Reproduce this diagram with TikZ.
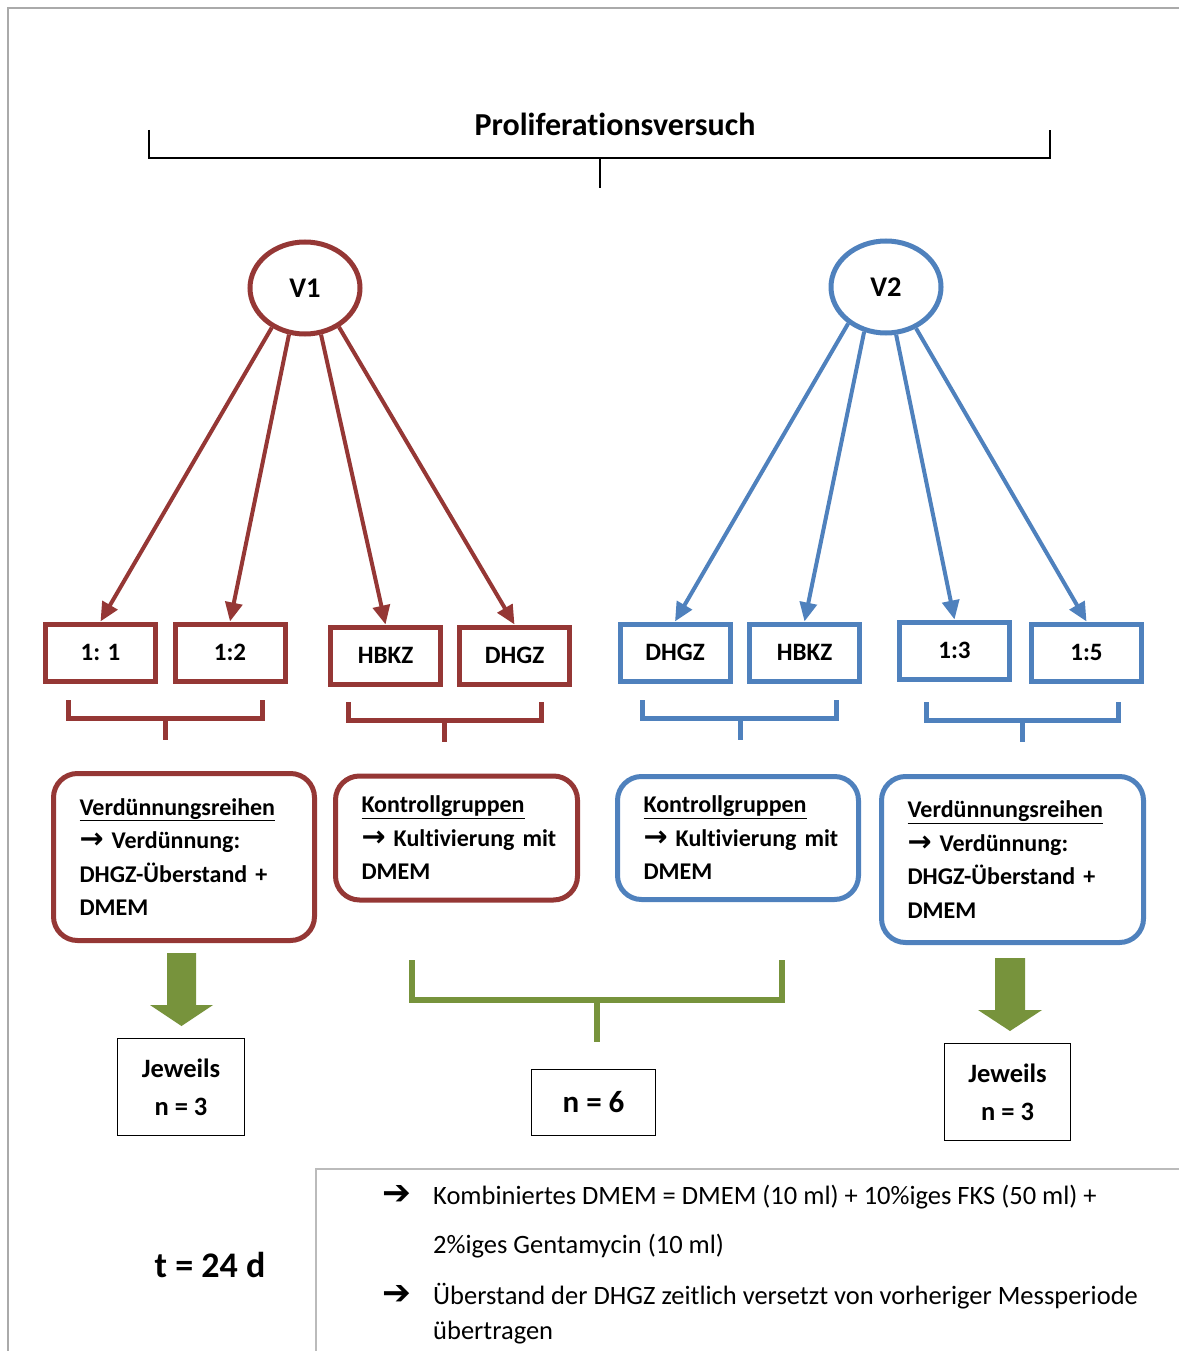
\documentclass[tikz,border=0pt]{standalone}
\usepackage{fontspec}
\setmainfont{Carlito}[Ligatures=NoCommon]
\newfontfamily\arrowfont{DejaVu Sans}
\usetikzlibrary{arrows.meta,shapes.geometric}
\definecolor{vred}{RGB}{149,55,53}
\definecolor{vblue}{RGB}{79,129,189}
\definecolor{vgreen}{RGB}{119,147,60}
\definecolor{framegray}{RGB}{170,170,170}
\newcommand{\thickarr}{\scalebox{1.2}{\arrowfont\bfseries →}}
\newcommand{\heavyarr}{\scalebox{1.3}{\arrowfont\bfseries ➔}}
\newcommand{\boxfont}{\bfseries\fontsize{24}{33.5}\selectfont}

\begin{document}
\begin{tikzpicture}[x=1pt, y=-1pt,
  ratio/.style={draw=#1, line width=5pt, minimum width=110pt, minimum height=57pt, inner sep=0pt, font=\bfseries\fontsize{25}{30}\selectfont},
  group/.style={draw=#1, line width=5pt, rounded corners=24pt, inner xsep=26pt, inner ysep=0pt, align=left, font=\boxfont},
  count/.style={draw, line width=1.6pt, inner sep=0pt, align=center},
  feed/.style={draw=#1, line width=4pt, -{Triangle[length=19pt,width=17pt]}},
  clamp/.style={draw=#1, line width=5pt}]
\useasboundingbox (0,0) rectangle (1179,1351);
\draw[framegray, line width=2.5pt] (8,1351) -- (8,8) -- (1179,8);

\node[font=\bfseries\fontsize{32}{36}\selectfont](title) at (615,124) {Proliferationsversuch};
\draw[line width=1.6pt] (149,130) -- (149,158) -- (1050,158) -- (1050,130);
\draw[line width=1.6pt] (600,158) -- (600,188);

\begin{scope}[every node/.style={ellipse, line width=5pt, minimum width=110pt, minimum height=92pt, font=\bfseries\fontsize{28.5}{32}\selectfont}]
\node[draw=vred](v1) at (305,288) {V1};
\node[draw=vblue](v2) at (886,287) {V2};
\end{scope}

\node[ratio=vred](r11) at (100.5,652.5) {1: 1};
\node[ratio=vred](r12) at (230,652.5) {1:2};
\node[ratio=vred](hbkz1) at (385.5,655.5) {HBKZ};
\node[ratio=vred](dhgz1) at (514.5,655.5) {DHGZ};
\node[ratio=vblue](dhgz2) at (675,652.5) {DHGZ};
\node[ratio=vblue](hbkz2) at (804.5,652.5) {HBKZ};
\node[ratio=vblue](r13) at (954.5,650.5) {1:3};
\node[ratio=vblue](r15) at (1086.5,652.5) {1:5};

\draw[feed=vred] (v1.230) -- (r11.north);
\draw[feed=vred] (v1.251) -- (r12.north);
\draw[feed=vred] (v1.289) -- (hbkz1.north);
\draw[feed=vred] (v1.311) -- (dhgz1.north);
\draw[feed=vblue] (v2.224) -- (dhgz2.north);
\draw[feed=vblue] (v2.244) -- (hbkz2.north);
\draw[feed=vblue] (v2.282) -- (r13.north);
\draw[feed=vblue] (v2.306) -- (r15.north);

\draw[clamp=vred] (68,700) -- (68,718) -- (262,718) -- (262,700);
\draw[clamp=vred] (165,718) -- (165,740);
\draw[clamp=vred] (348,702) -- (348,720) -- (541,720) -- (541,702);
\draw[clamp=vred] (444,720) -- (444,742);
\draw[clamp=vblue] (642,700) -- (642,718) -- (836,718) -- (836,700);
\draw[clamp=vblue] (740,718) -- (740,740);
\draw[clamp=vblue] (926,702) -- (926,720) -- (1118,720) -- (1118,702);
\draw[clamp=vblue] (1022,720) -- (1022,742);

\node[group=vred, text width=209pt, minimum height=167pt](dil1) at (184,857) {\underline{Verdünnungsreihen}\\ \mbox{\thickarr{} Verdünnung:}\\ \mbox{DHGZ-Überstand +}\\ DMEM};
\node[group=vred, text width=190pt, minimum height=124pt](ctrl1) at (456.5,838) {\underline{Kontrollgruppen}\\ \mbox{\thickarr{} Kultivierung mit}\\ DMEM};
\node[group=vblue, text width=189pt, minimum height=123pt](ctrl2) at (738,838) {\underline{Kontrollgruppen}\\ \mbox{\thickarr{} Kultivierung mit}\\ DMEM};
\node[group=vblue, text width=210pt, minimum height=166pt](dil2) at (1012.5,859.5) {\underline{Verdünnungsreihen}\\ \mbox{\thickarr{} Verdünnung:}\\ \mbox{DHGZ-Überstand +}\\ DMEM};

\fill[vgreen] (167,953) -- (196,953) -- (196,1005) -- (213,1005) -- (181.5,1026) -- (150,1005) -- (167,1005) -- cycle;
\fill[vgreen] (995,958) -- (1025,958) -- (1025,1010) -- (1042,1010) -- (1010,1031) -- (978,1010) -- (995,1010) -- cycle;
\draw[vgreen, line width=6pt] (412,960) -- (412,1000) -- (782,1000) -- (782,960);
\draw[vgreen, line width=6pt] (597,1000) -- (597,1042);

\node[count, minimum width=127pt, minimum height=97pt, font=\bfseries\fontsize{26.5}{38}\selectfont](n3a) at (181,1087) {Jeweils\\ n = 3};
\node[count, minimum width=124pt, minimum height=66pt, font=\bfseries\fontsize{31}{34}\selectfont](n6) at (593.5,1102.5) {n = 6};
\node[count, minimum width=126pt, minimum height=97pt, font=\bfseries\fontsize{26.5}{38}\selectfont](n3b) at (1007.5,1092) {Jeweils\\ n = 3};

\node[font=\bfseries\fontsize{36}{40}\selectfont](days) at (210,1265) {t = 24 d};

\draw[framegray!80, line width=1.6pt] (316,1351) -- (316,1169) -- (1179,1169);
\begin{scope}[every node/.style={anchor=west, inner sep=0pt, font=\fontsize{26.5}{30}\selectfont}]
\node(note1) at (433,1197) {\llap{\heavyarr\hspace{22pt}}Kombiniertes DMEM = DMEM (10 ml) + 10\%iges FKS (50 ml) +};
\node(note1b) at (433,1246) {2\%iges Gentamycin (10 ml)};
\node(note2) at (433,1296) {\llap{\heavyarr\hspace{22pt}}Überstand der DHGZ zeitlich versetzt von vorheriger Messperiode};
\node(note2b) at (433,1333) {übertragen};
\end{scope}
\end{tikzpicture}
\end{document}
